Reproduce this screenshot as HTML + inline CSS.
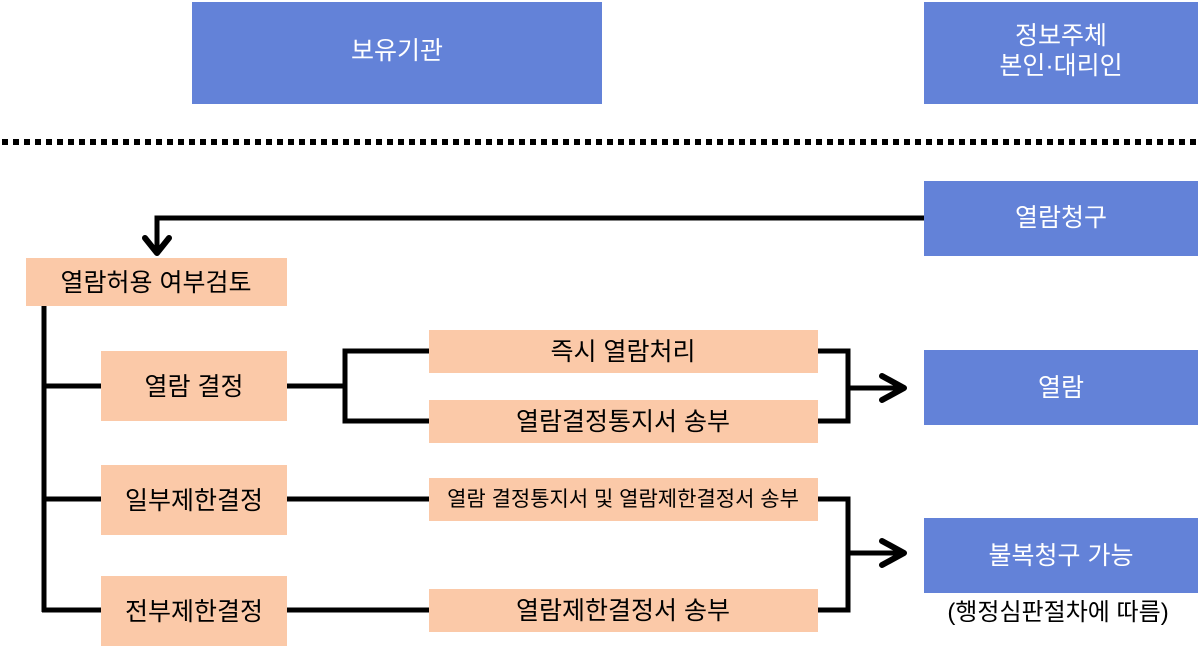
<!DOCTYPE html>
<html><head><meta charset="utf-8"><style>
html,body{margin:0;padding:0;background:#fff;}
svg{display:block}
text{font-family:"Liberation Sans","Noto Sans CJK KR",sans-serif;}
</style></head><body>
<svg width="1198" height="648" viewBox="0 0 1198 648" xmlns="http://www.w3.org/2000/svg">
<rect x="192" y="2" width="410" height="102" fill="#6382d8"/>
<text x="397" y="59" font-size="25" fill="#fff" text-anchor="middle">보유기관</text>
<rect x="924" y="2" width="274" height="102" fill="#6382d8"/>
<text x="1061" y="44" font-size="25" fill="#fff" text-anchor="middle">정보주체</text>
<text x="1061" y="74" font-size="25" fill="#fff" text-anchor="middle">본인·대리인</text>
<line x1="2" y1="142" x2="1198" y2="142" stroke="#000" stroke-width="6" stroke-dasharray="6 5"/>
<rect x="924" y="181" width="274" height="75" fill="#6382d8"/>
<text x="1061" y="226" font-size="25" fill="#fff" text-anchor="middle">열람청구</text>
<g stroke="#000" stroke-width="5" fill="none" stroke-linecap="butt">
<polyline points="924,218 157,218 157,252"/>
<polyline points="145,238 157,253 169,238" stroke-linecap="round" stroke-linejoin="round" stroke-width="6"/>
<line x1="44" y1="306" x2="44" y2="612"/>
<line x1="42" y1="386" x2="101" y2="386"/>
<line x1="42" y1="499" x2="101" y2="499"/>
<line x1="42" y1="610" x2="101" y2="610"/>
<line x1="287" y1="386" x2="345" y2="386"/>
<polyline points="429,351 345,351 345,421 429,421"/>
<polyline points="818,351 848,351 848,421 818,421"/>
<line x1="848" y1="388" x2="904" y2="388"/>
<polyline points="882,376 904,388 882,400" stroke-linecap="round" stroke-linejoin="round" stroke-width="6"/>
<line x1="287" y1="499" x2="429" y2="499"/>
<line x1="287" y1="610" x2="429" y2="610"/>
<polyline points="818,499 848,499 848,610 818,610"/>
<line x1="848" y1="553" x2="904" y2="553"/>
<polyline points="882,541 904,553 882,565" stroke-linecap="round" stroke-linejoin="round" stroke-width="6"/>
</g>
<g fill="#fbc9a8">
<rect x="26" y="258" width="261" height="48"/>
<rect x="101" y="351" width="186" height="70"/>
<rect x="101" y="465" width="186" height="70"/>
<rect x="101" y="576" width="186" height="70"/>
<rect x="429" y="330" width="389" height="43"/>
<rect x="429" y="400" width="389" height="43"/>
<rect x="429" y="478" width="389" height="43"/>
<rect x="429" y="589" width="389" height="43"/>
</g>
<g font-size="25" fill="#000" text-anchor="middle">
<text x="156" y="291">열람허용 여부검토</text>
<text x="194" y="395">열람 결정</text>
<text x="194" y="509">일부제한결정</text>
<text x="194" y="620">전부제한결정</text>
<text x="623" y="360">즉시 열람처리</text>
<text x="623" y="430">열람결정통지서 송부</text>
<text x="623" y="506" font-size="21">열람 결정통지서 및 열람제한결정서 송부</text>
<text x="623" y="619">열람제한결정서 송부</text>
<text x="1058" y="620" font-size="24">(행정심판절차에 따름)</text>
</g>
<rect x="924" y="350" width="274" height="75" fill="#6382d8"/>
<text x="1061" y="396" font-size="25" fill="#fff" text-anchor="middle">열람</text>
<rect x="924" y="518" width="274" height="75" fill="#6382d8"/>
<text x="1061" y="564" font-size="25" fill="#fff" text-anchor="middle">불복청구 가능</text>
</svg>
</body></html>
